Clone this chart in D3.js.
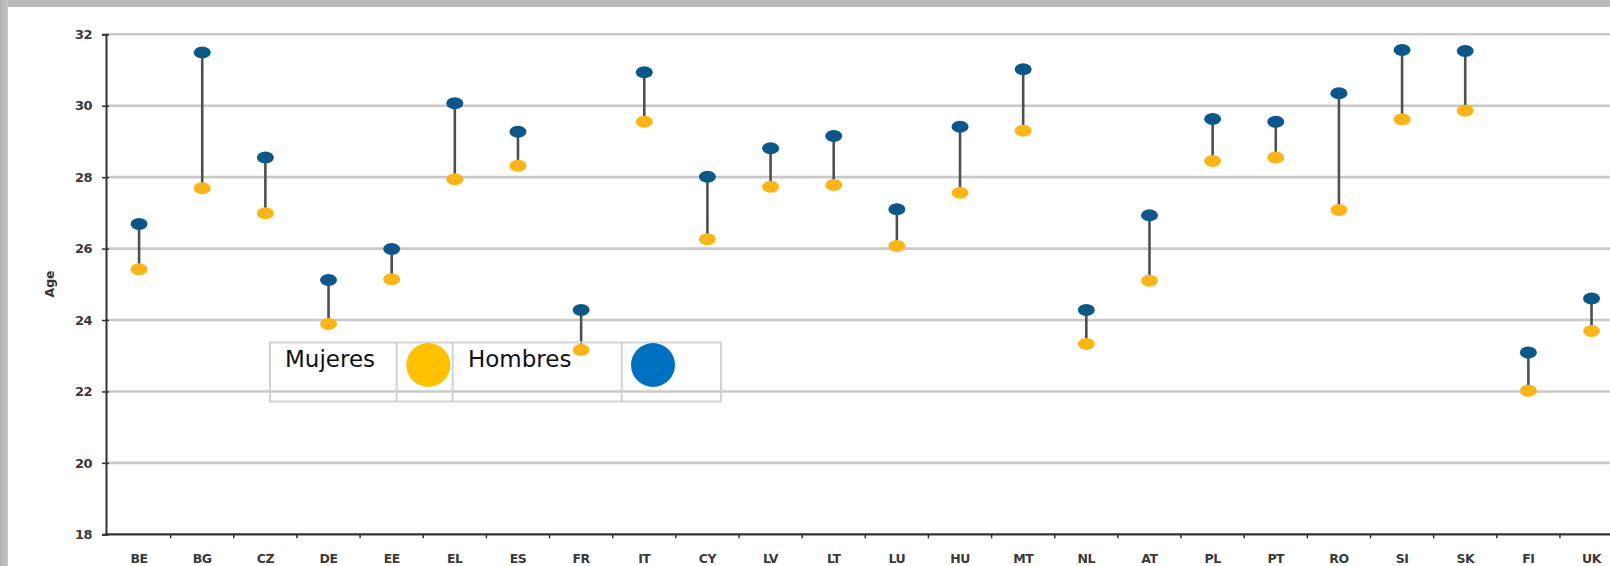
<!DOCTYPE html>
<html>
<head>
<meta charset="utf-8">
<script src="https://cdn.jsdelivr.net/npm/d3@7/dist/d3.min.js"></script>
<style>
  html, body { margin: 0; padding: 0; background: #fff; }
  svg { display: block; }
</style>
</head>
<body>
<svg id="chart" width="1610" height="566"></svg>
<script>
// ---- data ----
const countries = ["BE","BG","CZ","DE","EE","EL","ES","FR","IT","CY","LV","LT","LU","HU","MT","NL","AT","PL","PT","RO","SI","SK","FI","UK"];
const mujeres   = [25.42,27.69,26.99,23.89,25.14,27.94,28.32,23.16,29.55,26.26,27.73,27.78,26.07,27.56,29.30,23.33,25.10,28.45,28.55,27.08,29.62,29.86,22.02,23.69];
const hombres   = [26.69,31.49,28.55,25.12,25.99,30.07,29.27,24.28,30.94,28.01,28.81,29.15,27.10,29.41,31.02,24.28,26.93,29.63,29.55,30.35,31.56,31.53,23.09,24.60];
const yTicks    = [18,20,22,24,26,28,30,32];
const legendItems = [{label: "Mujeres", color: "#FFC000"}, {label: "Hombres", color: "#0070C0"}];
const yTitle = "Age";

(function () {
const svg = d3.select("#chart");
const W = 1610, H = 566;

// frame
svg.append("rect").attr("x",0).attr("y",0).attr("width",W).attr("height",H).attr("fill","#fff");
const grad = svg.append("defs").append("linearGradient").attr("id","lg").attr("x1","0").attr("x2","1");
grad.append("stop").attr("offset","0").attr("stop-color","#b0b0b0");
grad.append("stop").attr("offset","1").attr("stop-color","#c4c4c4");
svg.append("rect").attr("x",0).attr("y",0).attr("width",W).attr("height",7).attr("fill","#b9b9b9");
svg.append("rect").attr("x",0).attr("y",0).attr("width",8).attr("height",H).attr("fill","url(#lg)");

// scales
const x0 = 107.5, step = 63.15;
const x = d3.scaleBand().domain(countries).range([x0, x0 + step*countries.length]).paddingInner(0).paddingOuter(0);
const y = d3.scaleLinear().domain([18,32]).range([534.3, 34.3]);
const axisX = 106;

// gridlines
svg.append("g").selectAll("line").data(yTicks.filter(t => t !== 18)).join("line")
  .attr("x1", axisX).attr("x2", W)
  .attr("y1", d => y(d)).attr("y2", d => y(d))
  .attr("stroke", "#c9c9c9").attr("stroke-width", 2.6);

// y axis
const yAxis = d3.axisLeft(y).tickValues(yTicks).tickSize(4).tickPadding(10).tickFormat(d3.format("d"));
const gy = svg.append("g").attr("transform", `translate(${axisX},0)`).call(yAxis);
gy.select(".domain").attr("stroke","#333").attr("stroke-width",2);
gy.selectAll(".tick line").attr("x2", -4).attr("x1", 3).attr("stroke","#333").attr("stroke-width",1.5);
gy.selectAll(".tick text").attr("fill","#3a3a3a").attr("font-family","DejaVu Sans").attr("font-weight","bold").attr("font-size","13px").attr("letter-spacing","-0.5px");

// x axis
const xAxis = d3.axisBottom(x).tickSize(0).tickPadding(20);
const gx = svg.append("g").attr("transform", `translate(0,${y(18)})`).call(xAxis);
gx.select(".domain").remove();
gx.append("line").attr("x1", axisX-1).attr("x2", W).attr("y1",0).attr("y2",0).attr("stroke","#333").attr("stroke-width",2.2);
gx.selectAll(".tick text").attr("fill","#3a3a3a").attr("font-family","DejaVu Sans").attr("font-weight","bold").attr("font-size","12.5px").attr("letter-spacing","-0.5px");
// boundary ticks between categories
gx.append("g").selectAll("line").data(countries.slice(1)).join("line")
  .attr("x1", d => x(d)).attr("x2", d => x(d)).attr("y1", 0).attr("y2", 4)
  .attr("stroke","#333").attr("stroke-width",1.5);

// y title
svg.append("text").attr("transform","translate(50,284) rotate(-90)")
  .attr("text-anchor","middle").attr("dominant-baseline","middle").attr("font-family","DejaVu Sans").attr("font-weight","bold")
  .attr("font-size","12.5px").attr("fill","#333").text(yTitle);

// data
const rows = countries.map((c,i) => ({c, m: mujeres[i], h: hombres[i]}));
const cx = d => x(d.c) + x.bandwidth()/2;
const marks = svg.append("g");
marks.selectAll("line.stem").data(rows).join("line").attr("class","stem")
  .attr("x1", cx).attr("x2", cx).attr("y1", d => y(d.h)).attr("y2", d => y(d.m))
  .attr("stroke","#4f4f4f").attr("stroke-width",2.6);
marks.selectAll("ellipse.m").data(rows).join("ellipse").attr("class","m")
  .attr("cx", cx).attr("cy", d => y(d.m)).attr("rx", 8.5).attr("ry", 6)
  .attr("fill","#FBB516");
marks.selectAll("ellipse.h").data(rows).join("ellipse").attr("class","h")
  .attr("cx", cx).attr("cy", d => y(d.h)).attr("rx", 8.5).attr("ry", 6)
  .attr("fill","#0B5789");

// legend table
const lg = svg.append("g");
const cols = [270, 396.7, 452.7, 621.7, 721];
const tTop = 342.5, tBottom = 401.5;
lg.append("rect").attr("x", cols[0]).attr("y", tTop).attr("width", cols[4]-cols[0]).attr("height", tBottom-tTop)
  .attr("fill","none").attr("stroke","#d3d3d3").attr("stroke-width",2);
lg.selectAll("line.col").data(cols.slice(1,4)).join("line").attr("class","col")
  .attr("x1", d => d).attr("x2", d => d).attr("y1", tTop).attr("y2", tBottom)
  .attr("stroke","#d3d3d3").attr("stroke-width",2);
legendItems.forEach((it, i) => {
  const tx = i === 0 ? 285 : 468;
  lg.append("text").attr("x", tx).attr("y", 367).attr("font-family","DejaVu Sans")
    .attr("font-size","23px").attr("fill","#111").text(it.label);
  const ccx = i === 0 ? 428.3 : 653;
  lg.append("circle").attr("cx", ccx).attr("cy", 365).attr("r", 22).attr("fill", it.color);
});
})();
</script>
</body>
</html>
